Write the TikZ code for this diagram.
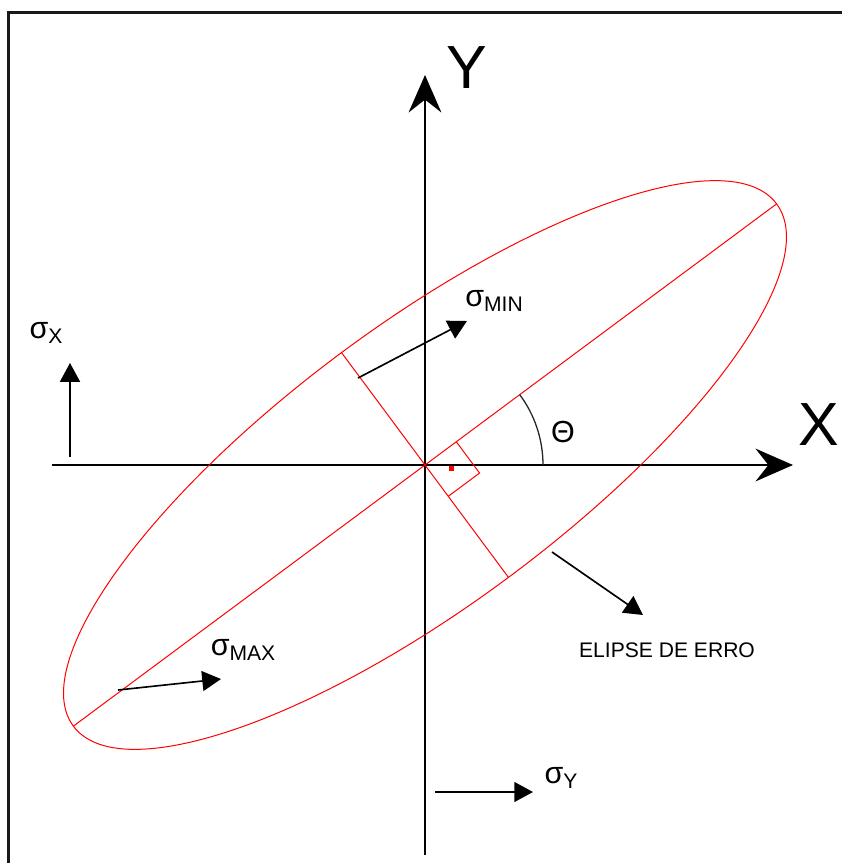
\documentclass[tikz,border=0pt]{standalone}
\usepackage{fontspec}
\setmainfont{Liberation Sans}
\usetikzlibrary{arrows.meta,calc}

\newcommand{\sigmalabel}[1]{%
    \fontsize{26}{26}\selectfont σ\raisebox{-0.15em}{\fontsize{18}{18}\selectfont #1}}

\begin{document}
\begin{tikzpicture}[
    x=0.03cm,
    y=-0.03cm,
    frame/.style={
        line width=2pt,
        draw=black!90
    },
    axis/.style={
        line width=1.3pt,
        draw=black,
        -{Stealth[length=32pt,width=28pt,inset=11pt]}
    },
    errline/.style={
        line width=0.85pt,
        draw=red
    },
    arrow/.style={
        line width=1.4pt,
        draw=black,
        -{Triangle[length=16pt,width=17pt]}
    },
    biglabel/.style={
        font=\fontsize{52}{52}\selectfont
    },
    sigma/.style={
        inner sep=0pt
    }
]
    \useasboundingbox (0,0) rectangle (842,863);

    % Rámeček
    \draw[frame] (8.5,870) -- (8.5,12.5) -- (850,12.5);

    % Osy
    \coordinate (O) at (425,465);
    \coordinate (xl) at (52,465);
    \coordinate (xr) at (793,465);
    \coordinate (yb) at (425,855);
    \coordinate (yt) at (425,75);
    \draw[axis] (xl) -- (xr);
    \draw[axis] (yb) -- (yt);
    \node[biglabel] (xlab) at (819,425) {X};
    \node[biglabel] (ylab) at (467,68) {Y};

    % Elipsa chyb
    \draw[errline, rotate around={36.6:(O)}] (O) ellipse [x radius=438, y radius=140];
    \coordinate (majA) at ($(O)+(-36.6:438)$);
    \coordinate (majB) at ($(O)+(143.4:438)$);
    \coordinate (minA) at ($(O)+(-126.6:140)$);
    \coordinate (minB) at ($(O)+(53.4:140)$);
    \draw[errline] (majB) -- (majA);
    \draw[errline] (minA) -- (minB);

    % Pravý úhel
    \draw[errline] ($(O)+(-36.6:39)$) -- ($(O)+(-36.6:39)+(53.4:39)$) -- ($(O)+(53.4:39)$);
    \fill[red] (448.5,465.8) rectangle (453.5,470.8);

    % Úhel theta
    \draw[line width=1.1pt, black!85] ($(O)+(0:118)$) arc[start angle=0, end angle=-36.6, radius=118];
    \node[font=\fontsize{26}{26}\selectfont] (theta) at (563,432) {Θ};

    % Šipky sigma
    \coordinate (sxa) at (70,457);
    \coordinate (sxb) at (70,363);
    \draw[arrow] (sxa) -- (sxb);
    \node[sigma] (sx) at (46,333) {\sigmalabel{X}};

    \coordinate (sya) at (435,792);
    \coordinate (syb) at (533,792);
    \draw[arrow] (sya) -- (syb);
    \node[sigma] (sy) at (561,778) {\sigmalabel{Y}};

    \coordinate (smina) at (358,378);
    \coordinate (sminb) at (467,321);
    \draw[arrow] (smina) -- (sminb);
    \node[sigma] (smin) at (494,301) {\sigmalabel{MIN}};

    \coordinate (smaxa) at (118,690);
    \coordinate (smaxb) at (221,679);
    \draw[arrow] (smaxa) -- (smaxb);
    \node[sigma] (smax) at (243,650) {\sigmalabel{MAX}};

    % Popisek elipsy
    \coordinate (ela) at (552,552);
    \coordinate (elb) at (643,615);
    \draw[arrow] (ela) -- (elb);
    \node[font=\fontsize{18}{18}\selectfont] (elab) at (667,650) {ELIPSE DE ERRO};

\end{tikzpicture}
\end{document}
